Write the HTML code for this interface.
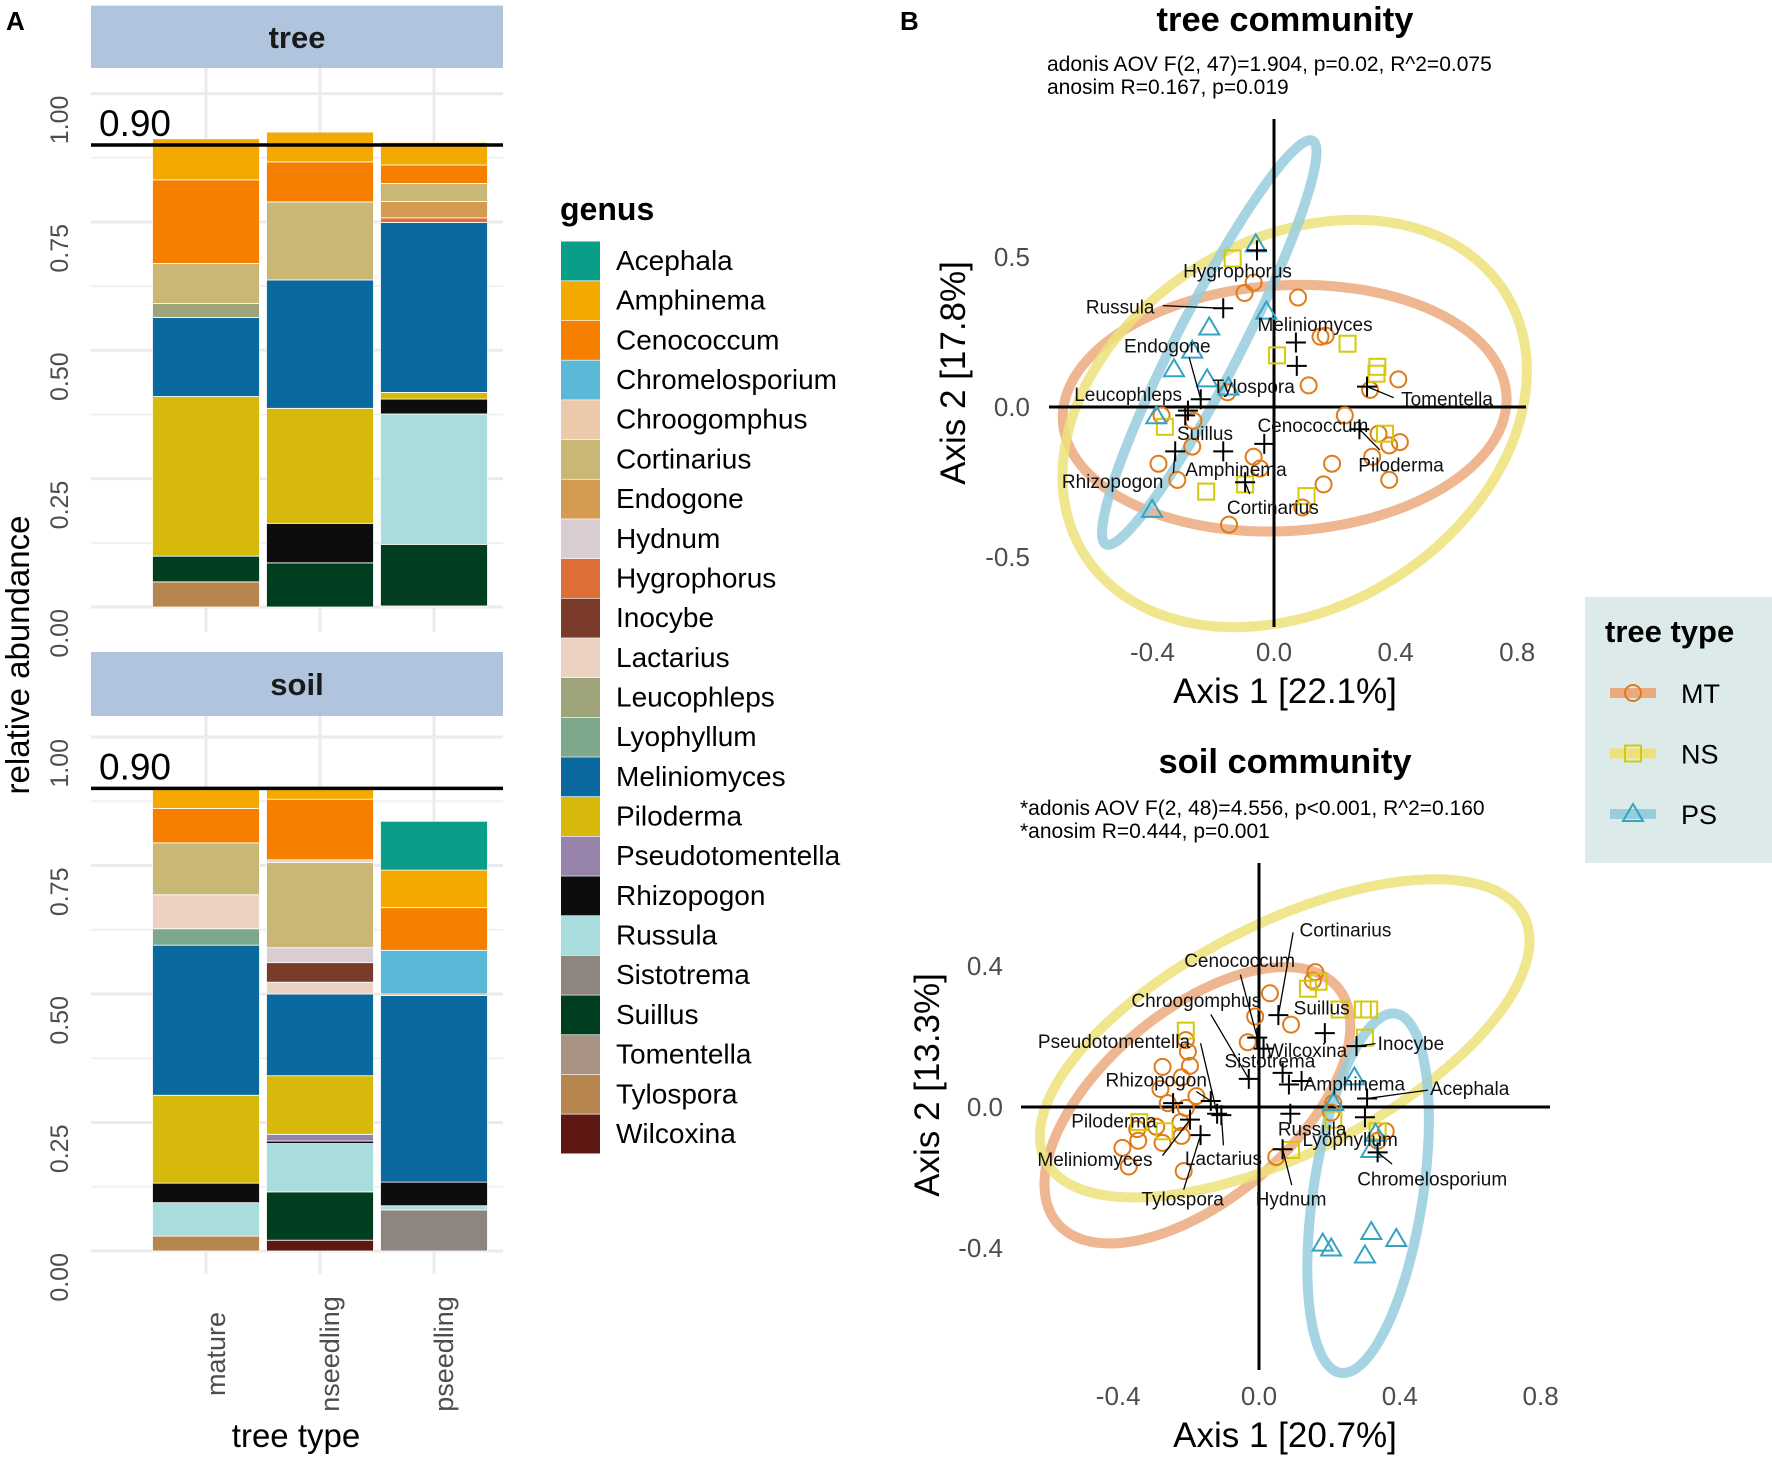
<!DOCTYPE html>
<html><head><meta charset="utf-8">
<style>
html,body{margin:0;padding:0;background:#fff;}
svg{display:block;font-family:"Liberation Sans",Arial,sans-serif;}
</style></head>
<body>
<svg id="fig" width="1772" height="1459" viewBox="0 0 1772 1459" xmlns="http://www.w3.org/2000/svg">
<rect x="0" y="0" width="1772" height="1459" fill="#fff"/>
<text x="6" y="30" font-size="26" font-weight="bold">A</text>
<text x="900" y="30" font-size="26" font-weight="bold">B</text>
<g id="barsA"></g>
<g id="legendA"></g>
<g id="pcoaTree"></g>
<g id="pcoaSoil"></g>
<g id="legendB"></g>
</svg>
<script>
// ===== Panel A data =====
const categories = ['mature','nseedling','pseedling'];
const genera = ['Acephala','Amphinema','Cenococcum','Chromelosporium','Chroogomphus','Cortinarius','Endogone','Hydnum','Hygrophorus','Inocybe','Lactarius','Leucophleps','Lyophyllum','Meliniomyces','Piloderma','Pseudotomentella','Rhizopogon','Russula','Sistotrema','Suillus','Tomentella','Tylospora','Wilcoxina'];
const genusColors = ['#0a9e88','#f3a900','#f77f00','#5bb8d6','#ebc9aa','#c9b776','#d49a4f','#d9ccd3','#dc6e36','#7b3b2b','#ebd2c3','#9fa37a','#7ea88c','#0a699f','#d6b90b','#9783a9','#0d0d0d','#a9dcdc','#8e8580','#003e1f','#a89384','#b7864e','#5e1712'];
// values per genus (same order as genera)
const treeMature    = [0,.080,.163,0,0,.078,0,0,0,0,0,.027,0,.154,.311,0,0,0,0,.050,0,.049,0];
const treeNseedling = [0,.058,.078,0,0,.152,0,0,0,0,0,0,0,.250,.224,0,.077,0,0,.086,0,0,0];
const treePseedling = [0,.044,.036,0,0,.035,.032,0,.009,0,0,0,0,.331,.013,0,.029,.254,0,.120,.002,0,0];
const soilMature    = [0,.039,.067,0,0,.101,0,0,0,0,.066,0,.032,.292,.171,0,.038,.065,0,0,0,.029,0];
const soilNseedling = [0,.021,.118,0,.005,.166,0,.029,0,.038,.023,0,0,.159,.114,.013,.005,.094,0,.094,0,0,.021];
const soilPseedling = [.095,.073,.083,.085,0,0,.003,0,0,0,0,0,0,.363,0,0,.046,.008,.080,0,0,0,0];
const yTicks = [0,0.25,0.5,0.75,1.0];
const yTickLabels = ['0.00','0.25','0.50','0.75','1.00'];
const threshold = 0.90;

const NS='http://www.w3.org/2000/svg';
function el(tag, attrs, parent){const e=document.createElementNS(NS,tag);for(const k in attrs)e.setAttribute(k,attrs[k]);if(parent)parent.appendChild(e);return e;}

(function(){
  const g=document.getElementById('barsA');
  const facets=[
    {name:'tree',strip:[5.6,68],y0:607,y1:93.6,panelTop:68,panelBot:632,data:[treeMature,treeNseedling,treePseedling]},
    {name:'soil',strip:[652,716],y0:1251,y1:737,panelTop:716,panelBot:1274,data:[soilMature,soilNseedling,soilPseedling]}
  ];
  const xl=91,xr=503;
  const xC=[206,320,434], bw=107;
  facets.forEach(f=>{
    const yS=v=>f.y0+(f.y1-f.y0)*v;
    const fg=el('g',{},g);
    
    
    const st=el('rect',{x:xl,y:f.strip[0],width:xr-xl,height:f.strip[1]-f.strip[0],fill:'#b0c4de'},fg);
    
    
    const stt=el('text',{x:(xl+xr)/2,y:(f.strip[0]+f.strip[1])/2+11,'text-anchor':'middle','font-size':31,'font-weight':'bold',fill:'#1a1a1a'},fg);
    stt.textContent=f.name;
    
    
    for(let v=0.125;v<1.1;v+=0.25){const l=el('line',{x1:xl,x2:xr,y1:yS(v),y2:yS(v),stroke:'#f0f0f0','stroke-width':2},fg);
      }
    yTicks.forEach((v,i)=>{
      const l=el('line',{x1:xl,x2:xr,y1:yS(v),y2:yS(v),stroke:'#ebebeb','stroke-width':3},fg);
      
      const t=el('text',{x:0,y:0,transform:`translate(68,${yS(v)+2}) rotate(-90)`,'text-anchor':'end','font-size':25,fill:'#4d4d4d'},fg);
      t.textContent=yTickLabels[i];
      
    });
    xC.forEach(x=>{const l=el('line',{x1:x,x2:x,y1:f.panelTop,y2:f.panelBot,stroke:'#ebebeb','stroke-width':3},fg);
      });
    f.data.forEach((vals,ci)=>{
      let cum=0;
      for(let gi=genera.length-1;gi>=0;gi--){
        const v=vals[gi]; if(!v) continue;
        const yb=yS(cum), yt=yS(cum+v);
        const r=el('rect',{x:xC[ci]-bw/2,y:yt,width:bw,height:yb-yt,fill:genusColors[gi],stroke:'#fff','stroke-width':0.8},fg);
        
        
        cum+=v;
      }
    });
    const hl=el('line',{x1:xl,x2:xr,y1:yS(threshold),y2:yS(threshold),stroke:'#000','stroke-width':3.5},fg);
    
    const ht=el('text',{x:99,y:yS(threshold)-9,'font-size':37,fill:'#000'},fg);
    ht.textContent=threshold.toFixed(2);
    
  });
  categories.forEach((c,i)=>{
    const t=el('text',{x:0,y:0,transform:`translate(${xC[i]+10},1354) rotate(-90)`,'text-anchor':'middle','dominant-baseline':'central','font-size':27,fill:'#4d4d4d'},g);
    t.textContent=c;
    
  });
  const xt=el('text',{x:296,y:1447,'text-anchor':'middle','font-size':33,fill:'#000'},g);
  xt.textContent='tree type';
  
  const yt=el('text',{x:0,y:0,transform:'translate(29,655) rotate(-90)','text-anchor':'middle','font-size':33,fill:'#000'},g);
  yt.textContent='relative abundance';
  

  const lg=document.getElementById('legendA');
  const tt=el('text',{x:560,y:220,'font-size':32,'font-weight':'bold',fill:'#000'},lg);
  tt.textContent='genus';
  
  genera.forEach((gname,i)=>{
    const cy=261+i*41.57*21/22;
    const r=el('rect',{x:561,y:cy-19.5,width:39,height:39,fill:genusColors[i]},lg);
    
    const t=el('text',{x:616,y:cy+9,'font-size':28,fill:'#000'},lg);
    t.textContent=gname;
    
  });
})();

// ===== Panel B data: tree community =====
const treeMTx=[-0.097,-0.067,0.079,0.153,0.170,0.114,0.409,0.316,0.233,0.344,0.379,0.414,0.323,0.379,0.191,0.163,0.093,-0.148,-0.067,-0.046,-0.153,-0.269,-0.318,-0.380,-0.265,-0.370];
const treeMTy=[0.380,0.415,0.365,0.234,0.238,0.072,0.092,0.057,-0.028,-0.089,-0.128,-0.117,-0.166,-0.243,-0.189,-0.258,-0.335,-0.392,-0.166,-0.205,0.049,-0.132,-0.243,-0.189,-0.046,-0.028];
const treeNSx=[-0.136,0.010,0.242,0.340,0.337,0.365,-0.223,0.107,-0.095,-0.359];
const treeNSy=[0.495,0.172,0.211,0.134,0.111,-0.089,-0.282,-0.297,-0.258,-0.066];
const treePSx=[-0.060,-0.025,-0.213,-0.269,-0.329,-0.220,-0.150,-0.387,-0.401];
const treePSy=[0.542,0.318,0.265,0.188,0.126,0.092,0.065,-0.031,-0.343];
const treeCentLabel=['Hygrophorus','Russula','Meliniomyces','Tylospora','Tomentella','Endogone','Leucophleps','Suillus','Rhizopogon','Amphinema','Cenococcum','Piloderma','Cortinarius'];
const treeCentX=[-0.056,-0.167,0.072,0.075,0.306,-0.241,-0.283,-0.292,-0.325,-0.167,-0.032,0.281,-0.095];
const treeCentY=[0.522,0.329,0.215,0.137,0.068,0.026,-0.012,-0.028,-0.148,-0.148,-0.123,-0.074,-0.251];
const treeLabX=[-0.120,-0.393,0.135,-0.067,0.418,-0.351,-0.480,-0.227,-0.531,-0.125,0.128,0.418,-0.004];
const treeLabY=[0.454,0.334,0.275,0.068,0.026,0.203,0.042,-0.089,-0.248,-0.208,-0.062,-0.194,-0.335];
const treeLabAnchor=['middle','end','middle','middle','start','middle','middle','middle','middle','middle','middle','middle','middle'];
const treeLineX=[null,-0.366,null,null,0.394,-0.279,null,null,-0.331,null,null,0.348,-0.080];
const treeLineY=[null,0.338,null,null,0.031,0.165,null,null,-0.220,null,null,-0.143,-0.290];
// ellipses: center, semi-major vector, semi-minor vector (data units)
const treeEllMT=[0.035,-0.004, 0.73,0.03, 0.0,-0.41];
const treeEllNS=[0.068,-0.055, 0.727,0.369, 0.235,-0.57];
const treeEllPS=[-0.213,0.215, 0.341,0.672, 0.0905,-0.057];
const treeXTicks=[-0.4,0.0,0.4,0.8];
const treeYTicks=[-0.5,0.0,0.5];

// ===== Panel B data: soil community =====
const soilMTx=[0.160,0.153,0.031,0.091,-0.011,-0.032,-0.208,-0.202,-0.196,-0.274,-0.280,-0.220,-0.178,-0.259,-0.208,-0.223,-0.292,-0.220,-0.346,-0.343,-0.388,-0.370,-0.274,-0.214,0.049,0.211,0.360,0.337,0.205];
const soilMTy=[0.383,0.359,0.323,0.234,0.257,0.184,0.190,0.157,0.117,0.114,0.051,0.084,0.031,0.011,-0.003,-0.043,-0.056,-0.082,-0.063,-0.096,-0.116,-0.169,-0.102,-0.182,-0.142,0.011,-0.069,-0.096,-0.016];
const soilNSx=[0.169,0.139,0.229,0.295,0.313,0.301,-0.208,-0.340,-0.268,0.091,0.211,0.337];
const soilNSy=[0.356,0.336,0.277,0.277,0.277,0.197,0.217,-0.043,-0.069,-0.122,-0.036,-0.069];
const soilPSx=[0.271,0.331,0.319,0.181,0.205,0.319,0.390,0.301,0.211];
const soilPSy=[0.084,-0.076,-0.122,-0.388,-0.402,-0.355,-0.375,-0.422,0.011];
const soilCentLabel=['Cortinarius','Cenococcum','Chroogomphus','Sistotrema','Wilcoxina','Suillus','Inocybe','Amphinema','','Acephala','Lyophyllum','Russula','Hydnum','Chromelosporium','Rhizopogon','Pseudotomentella','Lactarius','Piloderma','Meliniomyces','Tylospora'];
const soilCentX=[0.055,-0.005,-0.029,0.067,0.013,0.187,0.277,0.121,0.085,0.307,0.301,0.089,0.067,0.337,-0.137,-0.119,-0.107,-0.244,-0.196,-0.166];
const soilCentY=[0.261,0.197,0.080,0.097,0.166,0.210,0.173,0.074,0.064,0.024,-0.029,-0.019,-0.120,-0.129,0.017,-0.019,-0.023,0.011,-0.036,-0.080];
const soilLabX=[0.115,-0.055,-0.178,0.031,0.135,0.178,0.337,0.271,0,0.486,0.259,0.151,0.091,0.492,-0.292,-0.412,-0.101,-0.412,-0.466,-0.217];
const soilLabY=[0.503,0.416,0.303,0.130,0.161,0.281,0.181,0.066,0,0.053,-0.093,-0.063,-0.262,-0.205,0.077,0.186,-0.146,-0.040,-0.149,-0.262];
const soilLabAnchor=['start','middle','middle','middle','middle','middle','start','middle','middle','start','middle','middle','middle','middle','middle','middle','middle','middle','middle','middle'];
const soilLineX=[0.097,-0.053,-0.137,null,null,null,0.331,null,null,0.480,null,null,0.093,0.378,-0.178,-0.166,-0.101,null,-0.274,-0.214];
const soilLineY=[0.496,0.376,0.263,null,null,null,0.180,null,null,0.048,null,null,-0.222,-0.162,0.044,0.181,-0.109,null,-0.138,-0.235];
const soilEllMT=[-0.175,0.005, 0.410,0.319, 0.144,-0.229];
const soilEllNS=[0.073,0.195, 0.684,0.338, 0.127,-0.300];
const soilEllPS=[0.31,-0.245, 0.08,0.51, 0.153,-0.029];
const soilXTicks=[-0.4,0.0,0.4,0.8];
const soilYTicks=[-0.4,0.0,0.4];

const colMT='#e07b1a', colNS='#d6c80a', colPS='#35a3c2';
const ellMT='#eba97e', ellNS='#ede27a', ellPS='#97cddd';

function drawPcoa(gid,cfg){
  const g=document.getElementById(gid);
  const X=v=>cfg.x0+cfg.xs*v, Y=v=>cfg.y0-cfg.ys*v;
  const ti=el('text',{x:1285,y:cfg.titleY,'text-anchor':'middle','font-size':34.5,'font-weight':'bold'},g);
  ti.textContent=cfg.title;
  cfg.sub.forEach((s,i)=>{const t=el('text',{x:cfg.subX,y:cfg.subY+i*23,'font-size':21},g);t.textContent=s;
    });
  [[cfg.ellMT,ellMT,'mt'],[cfg.ellNS,ellNS,'ns'],[cfg.ellPS,ellPS,'ps']].forEach(([e,c,n])=>{
    let d='';
    for(let k=0;k<=120;k++){const t=k/120*2*Math.PI;
      const px=e[0]+e[2]*Math.cos(t)+e[4]*Math.sin(t), py=e[1]+e[3]*Math.cos(t)+e[5]*Math.sin(t);
      d+=(k?'L':'M')+X(px).toFixed(1)+','+Y(py).toFixed(1);}
    const p=el('path',{d:d+'Z',fill:'none',stroke:c,'stroke-width':10,'stroke-opacity':0.85},g);
    
  });
  const vl=el('line',{x1:X(0),x2:X(0),y1:cfg.vTop,y2:cfg.vBot,stroke:'#000','stroke-width':3},g);
  
  const hl=el('line',{x1:cfg.hL,x2:cfg.hR,y1:Y(0),y2:Y(0),stroke:'#000','stroke-width':3},g);
  
  cfg.mtx.forEach((v,i)=>{const c=el('circle',{cx:X(v),cy:Y(cfg.mty[i]),r:8,fill:'none',stroke:colMT,'stroke-width':2},g);
    });
  cfg.nsx.forEach((v,i)=>{const r=el('rect',{x:X(v)-8,y:Y(cfg.nsy[i])-8,width:16,height:16,fill:'none',stroke:colNS,'stroke-width':2},g);
    });
  cfg.psx.forEach((v,i)=>{const cx=X(v),cy=Y(cfg.psy[i]);
    const p=el('polygon',{points:`${cx},${cy-10} ${cx-10},${cy+7} ${cx+10},${cy+7}`,fill:'none',stroke:colPS,'stroke-width':2},g);
    });
  cfg.cx.forEach((v,i)=>{
    const cx=X(v),cy=Y(cfg.cy[i]);
    if(cfg.lx[i]!==null){const l=el('line',{x1:cx,y1:cy,x2:X(cfg.lx[i]),y2:Y(cfg.ly[i]),stroke:'#000','stroke-width':1.3},g);
      }
    const p=el('path',{d:`M${cx-10},${cy}H${cx+10}M${cx},${cy-10}V${cy+10}`,stroke:'#000','stroke-width':2},g);
    
    if(cfg.lab[i]){
      const t=el('text',{x:X(cfg.tx[i]),y:Y(cfg.ty[i])+6.5,'text-anchor':cfg.anc[i],'font-size':19,fill:'#111'},g);
      t.textContent=cfg.lab[i];
    }
  });
  cfg.xt.forEach(v=>{const t=el('text',{x:X(v),y:cfg.xtY,'text-anchor':'middle','font-size':26,fill:'#4d4d4d'},g);
    t.textContent=v.toFixed(1);});
  cfg.yt.forEach(v=>{const t=el('text',{x:cfg.ytX,y:Y(v)+9,'text-anchor':'end','font-size':26,fill:'#4d4d4d'},g);
    t.textContent=v.toFixed(1);});
  const xa=el('text',{x:1285,y:cfg.xaY,'text-anchor':'middle','font-size':35},g);
  xa.textContent=cfg.xaT;
  const ya=el('text',{x:0,y:0,transform:`translate(${cfg.yaX},${cfg.yaY}) rotate(-90)`,'text-anchor':'middle','font-size':35},g);
  ya.textContent=cfg.yaT;
}

drawPcoa('pcoaTree',{x0:1274,xs:304,y0:407,ys:300,title:'tree community',titleY:31,
  sub:['adonis AOV F(2, 47)=1.904, p=0.02, R^2=0.075','anosim R=0.167, p=0.019'],subX:1047,subY:71,
  ellMT:treeEllMT,ellNS:treeEllNS,ellPS:treeEllPS,vTop:119,vBot:627,hL:1049,hR:1526,
  mtx:treeMTx,mty:treeMTy,nsx:treeNSx,nsy:treeNSy,psx:treePSx,psy:treePSy,
  cx:treeCentX,cy:treeCentY,lab:treeCentLabel,tx:treeLabX,ty:treeLabY,anc:treeLabAnchor,lx:treeLineX,ly:treeLineY,
  xt:treeXTicks,yt:treeYTicks,xtY:661,ytX:1030,xaT:'Axis 1 [22.1%]',xaY:703,yaT:'Axis 2 [17.8%]',yaX:965,yaY:373});

drawPcoa('pcoaSoil',{x0:1259,xs:352,y0:1107,ys:352,title:'soil community',titleY:773,
  sub:['*adonis AOV F(2, 48)=4.556, p<0.001, R^2=0.160','*anosim R=0.444, p=0.001'],subX:1020,subY:815,
  ellMT:soilEllMT,ellNS:soilEllNS,ellPS:soilEllPS,vTop:863,vBot:1370,hL:1021,hR:1550,
  mtx:soilMTx,mty:soilMTy,nsx:soilNSx,nsy:soilNSy,psx:soilPSx,psy:soilPSy,
  cx:soilCentX,cy:soilCentY,lab:soilCentLabel,tx:soilLabX,ty:soilLabY,anc:soilLabAnchor,lx:soilLineX,ly:soilLineY,
  xt:soilXTicks,yt:soilYTicks,xtY:1405,ytX:1003,xaT:'Axis 1 [20.7%]',xaY:1447,yaT:'Axis 2 [13.3%]',yaX:939,yaY:1085});

(function(){
  const g=document.getElementById('legendB');
  const bg=el('rect',{x:1585,y:597,width:187,height:266,fill:'#dcebe9'},g);
  
  const t=el('text',{x:1605,y:642,'font-size':31,'font-weight':'bold'},g);
  t.textContent='tree type';
  const items=[['MT',ellMT,colMT,'c'],['NS',ellNS,colNS,'s'],['PS',ellPS,colPS,'t']];
  items.forEach((it,i)=>{
    const cy=693+i*60.5, cx=1633;
    const l=el('line',{x1:1610,x2:1656,y1:cy,y2:cy,stroke:it[1],'stroke-width':10},g);
    
    let m;
    if(it[3]==='c') m=el('circle',{cx:cx,cy:cy,r:8,fill:'none',stroke:it[2],'stroke-width':2},g);
    else if(it[3]==='s') m=el('rect',{x:cx-8,y:cy-8,width:16,height:16,fill:'none',stroke:it[2],'stroke-width':2},g);
    else m=el('polygon',{points:`${cx},${cy-10} ${cx-10},${cy+7} ${cx+10},${cy+7}`,fill:'none',stroke:it[2],'stroke-width':2},g);
    
    const tx=el('text',{x:1681,y:cy+10,'font-size':27},g);
    tx.textContent=it[0];
  });
})();
</script>
</body></html>
